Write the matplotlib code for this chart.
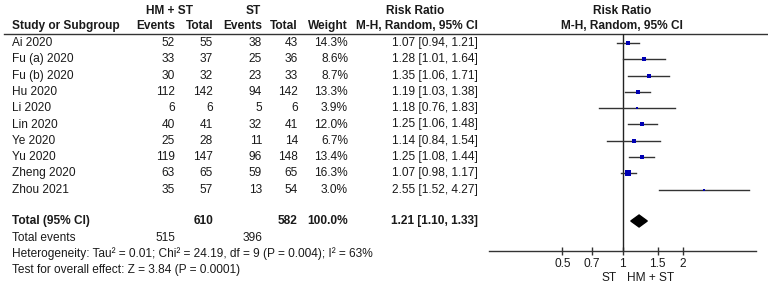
import matplotlib
matplotlib.use("Agg")
import matplotlib.pyplot as plt
import numpy as np

plt.rcParams['font.family'] = ['Liberation Sans', 'DejaVu Sans']

studies = ["Ai 2020", "Fu (a) 2020", "Fu (b) 2020", "Hu 2020", "Li 2020", "Lin 2020",
           "Ye 2020", "Yu 2020", "Zheng 2020", "Zhou 2021"]
hm_events = [52, 33, 30, 112, 6, 40, 25, 119, 63, 35]
hm_total = [55, 37, 32, 142, 6, 41, 28, 147, 65, 57]
st_events = [38, 25, 23, 94, 5, 32, 11, 96, 59, 13]
st_total = [43, 36, 33, 142, 6, 41, 14, 148, 65, 54]
weights = [14.3, 8.6, 8.7, 13.3, 3.9, 12.0, 6.7, 13.4, 16.3, 3.0]
rr = [1.07, 1.28, 1.35, 1.19, 1.18, 1.25, 1.14, 1.25, 1.07, 2.55]
rr_lo = [0.94, 1.01, 1.06, 1.03, 0.76, 1.06, 0.84, 1.08, 0.98, 1.52]
rr_hi = [1.21, 1.64, 1.71, 1.38, 1.83, 1.48, 1.54, 1.44, 1.17, 4.27]
total_hm, total_st = 610, 582
events_hm, events_st = 515, 396
pooled, pooled_lo, pooled_hi = 1.21, 1.10, 1.33
xticks = [0.5, 0.7, 1, 1.5, 2]
xticklabels = ["0.5", "0.7", "1", "1.5", "2"]
het_text = "Heterogeneity: Tau\u00b2 = 0.01; Chi\u00b2 = 24.19, df = 9 (P = 0.004); I\u00b2 = 63%"
eff_text = "Test for overall effect: Z = 3.84 (P = 0.0001)"

W, H = 768, 284
fig = plt.figure(figsize=(W / 100, H / 100), dpi=100)
tab = fig.add_axes([0, 0, 1, 1])
tab.set_xlim(0, W)
tab.set_ylim(H, 0)
tab.axis('off')

TC = '#1a1a1a'
FS = 8.6
def t(x, y, s, ha='left', bold=False):
    tab.text(x, y, s, ha=ha, va='center', fontsize=FS, color=TC,
             fontweight='bold' if bold else 'normal')

# headers
t(170, 11, "HM + ST", 'center', True)
t(253, 11, "ST", 'center', True)
t(415, 11, "Risk Ratio", 'center', True)
t(622, 11, "Risk Ratio", 'center', True)
t(12, 26, "Study or Subgroup", 'left', True)
t(175, 26, "Events", 'right', True)
t(213, 26, "Total", 'right', True)
t(262, 26, "Events", 'right', True)
t(298, 26, "Total", 'right', True)
t(348, 26, "Weight", 'right', True)
t(478, 26, "M-H, Random, 95% CI", 'right', True)
t(622, 26, "M-H, Random, 95% CI", 'center', True)
tab.plot([4, 768], [33.5, 33.5], color='#333333', lw=1.0)

def row_y(i):
    return 43 + i * 16.3

for i, name in enumerate(studies):
    y = row_y(i)
    t(12, y, name)
    t(175, y, str(hm_events[i]), 'right')
    t(213, y, str(hm_total[i]), 'right')
    t(262, y, str(st_events[i]), 'right')
    t(298, y, str(st_total[i]), 'right')
    t(348, y, f"{weights[i]:.1f}%", 'right')
    t(478, y, f"{rr[i]:.2f} [{rr_lo[i]:.2f}, {rr_hi[i]:.2f}]", 'right')

yt = 221
t(12, yt, "Total (95% CI)", 'left', True)
t(213, yt, str(total_hm), 'right', True)
t(298, yt, str(total_st), 'right', True)
t(348, yt, "100.0%", 'right', True)
t(478, yt, f"{pooled:.2f} [{pooled_lo:.2f}, {pooled_hi:.2f}]", 'right', True)
t(12, 238, "Total events")
t(175, 238, str(events_hm), 'right')
t(262, 238, str(events_st), 'right')
t(12, 254, het_text)
t(12, 270, eff_text)

# forest plot
x0, x1 = 489, 756
ytop, ybot = 34, 251
fa = fig.add_axes([x0 / W, (H - ybot) / H, (x1 - x0) / W, (ybot - ytop) / H])
fa.set_xscale('log')
fa.set_xlim(0.215, 4.65)
fa.set_ylim(ybot, ytop)
fa.patch.set_alpha(0)
for s in ['top', 'right', 'left']:
    fa.spines[s].set_visible(False)
fa.spines['bottom'].set_color('#333333')
fa.spines['bottom'].set_linewidth(1.0)
fa.set_yticks([])
fa.xaxis.set_minor_locator(matplotlib.ticker.NullLocator())
fa.set_xticks(xticks)
fa.set_xticklabels(xticklabels, fontsize=FS, color=TC)
fa.tick_params(axis='x', direction='inout', length=6, width=1, color='#333333', pad=2)
fa.axvline(1, color='#222222', lw=1.0)

for i in range(len(studies)):
    y = row_y(i)
    fa.plot([rr_lo[i], rr_hi[i]], [y, y], color='#333333', lw=1.0, zorder=2)
    side_px = 1.3 * np.sqrt(weights[i])
    fa.plot(rr[i], y, marker='s', linestyle='none', markersize=side_px * 0.72,
            color='#0000b4', markeredgewidth=0, zorder=3)

# diamond
dh = 6
fa.fill([pooled_lo, pooled, pooled_hi, pooled], [yt, yt - dh, yt, yt + dh],
        color='black', zorder=3)

t(609, 278, "ST", 'center')
t(651, 278, "HM + ST", 'center')

fig.savefig("out.png", dpi=100)
